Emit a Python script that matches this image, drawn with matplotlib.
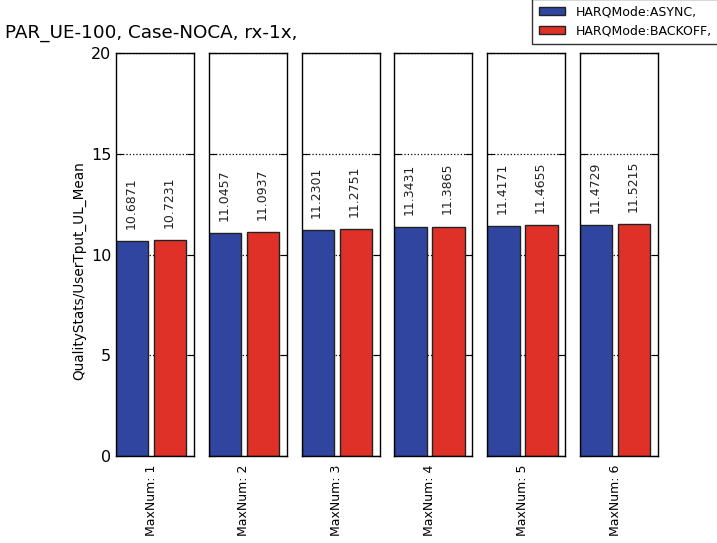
import matplotlib
matplotlib.use("Agg")
import matplotlib.pyplot as plt
from matplotlib.patches import Patch

groups = ["MaxNum: 1", "MaxNum: 2", "MaxNum: 3", "MaxNum: 4", "MaxNum: 5", "MaxNum: 6"]
series_names = ["HARQMode:ASYNC,", "HARQMode:BACKOFF,"]
async_vals = [10.6871, 11.0457, 11.2301, 11.3431, 11.4171, 11.4729]
backoff_vals = [10.7231, 11.0937, 11.2751, 11.3865, 11.4655, 11.5215]
colors = ["#2f45a0", "#e03128"]
y_ticks = [0, 5, 10, 15, 20]

fig, axes = plt.subplots(1, len(groups), figsize=(7.17, 5.43), dpi=100, sharey=True)
fig.subplots_adjust(left=0.1618, right=0.9177, bottom=0.1602, top=0.9024, wspace=0.192)

bar_w = 0.85
for i, ax in enumerate(axes):
    vals = [async_vals[i], backoff_vals[i]]
    for j, v in enumerate(vals):
        ax.bar(j, v, width=bar_w, align="edge", color=colors[j],
               edgecolor="#222222", linewidth=1.0, zorder=2)
        ax.text(j + bar_w / 2 - 0.03, v + 0.6, f"{v:.4f}", rotation=90,
                ha="center", va="bottom", fontsize=9, color="#222222")
    ax.set_xlim(0, 2.05)
    ax.set_ylim(0, 20)
    ax.set_yticks(y_ticks)
    ax.yaxis.grid(True, linestyle=":", color="black", linewidth=0.9, zorder=1)
    ax.set_axisbelow(True)
    ax.set_xticks([0.925])
    ax.set_xticklabels([groups[i]], rotation=90, fontsize=9)
    ax.tick_params(axis="x", length=0, pad=6)
    ax.tick_params(axis="y", direction="in", length=5, left=True, right=True,
                   labelsize=11.5, width=0.8)
    if i > 0:
        ax.tick_params(axis="y", labelleft=False)
    for s in ax.spines.values():
        s.set_linewidth(1.0)
        s.set_color("black")

axes[0].set_ylabel("QualityStats/UserTput_UL_Mean", fontsize=9.8, labelpad=3)
axes[0].yaxis.label.set_y(0.46)

fig.text(0.007, 0.922, "PAR_UE-100, Case-NOCA, rx-1x,", fontsize=13.2, ha="left", va="bottom")

handles = [Patch(facecolor=colors[k], edgecolor="#222222", label=series_names[k]) for k in range(2)]
leg = fig.legend(handles=handles, loc="upper left", bbox_to_anchor=(0.742, 1.002),
                 fontsize=9.0, frameon=True, fancybox=False, borderaxespad=0,
                 handlelength=2.1, handleheight=0.6, handletextpad=0.85,
                 labelspacing=0.42, borderpad=0.55)
leg.get_frame().set_edgecolor("black")
leg.get_frame().set_linewidth(1.0)

fig.savefig("out.png", dpi=100)
